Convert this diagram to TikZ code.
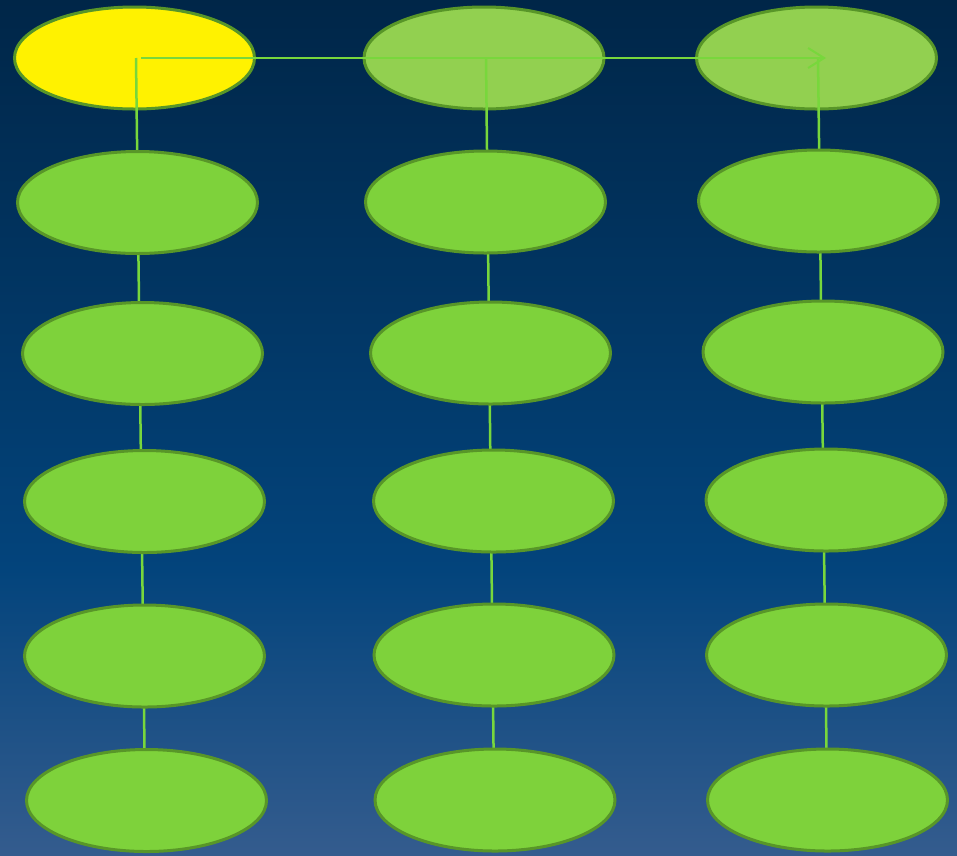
\documentclass[tikz,border=0pt]{standalone}
\usetikzlibrary{shapes.geometric,arrows.meta}
\definecolor{bgtop}{RGB}{0,38,72}
\definecolor{bgmid}{RGB}{3,68,124}
\definecolor{bgbot}{RGB}{52,92,142}
\definecolor{leaf}{RGB}{126,210,59}
\definecolor{leaflight}{RGB}{146,208,80}
\definecolor{rim}{RGB}{88,150,40}
\definecolor{wire}{RGB}{120,215,60}
\tikzset{
  oval/.style={ellipse, draw=rim, line width=3pt, fill=leaf,
    minimum width=240pt, minimum height=102pt, inner sep=0pt},
  ovaltop/.style={oval, fill=leaflight},
  ovalroot/.style={oval, fill=yellow},
  wireline/.style={draw=wire, line width=2.5pt},
  wirearrow/.style={wireline, -{Straight Barb[length=16pt,width=20pt,line width=2pt]}}
}
\begin{document}
\begin{tikzpicture}[x=1pt,y=-1pt]
\useasboundingbox (0,0) rectangle (957,855);
\shade[top color=bgtop, bottom color=bgmid] (0,0) rectangle (957,571);
\shade[top color=bgmid, bottom color=bgbot] (0,570) rectangle (957,855);
% top row
\node[ovalroot] (a1) at (134.5,58) {};
\node[ovaltop] (b1) at (484,58) {};
\node[ovaltop] (c1) at (816.5,58) {};
% connector coordinates
\coordinate (r0) at (141,58);
\coordinate (rEnd) at (826,58);
\coordinate (ra) at (136,58);
\coordinate (rb) at (486,58);
\coordinate (rc) at (818,58);
\coordinate (za) at (145,790);
\coordinate (zb) at (494,790);
\coordinate (zc) at (827,790);
% vertical connectors (behind the lower ovals)
\draw[wireline] (ra) -- (za);
\draw[wireline] (rb) -- (zb);
\draw[wireline] (rc) -- (zc);
% column 1
\node[oval] (a2) at (137.5,202.5) {};
\node[oval] (a3) at (142.5,353.5) {};
\node[oval] (a4) at (144.5,501.5) {};
\node[oval] (a5) at (144.5,656) {};
\node[oval] (a6) at (146.5,800.5) {};
% column 2
\node[oval] (b2) at (485.5,202) {};
\node[oval] (b3) at (490.5,353) {};
\node[oval] (b4) at (493.5,501) {};
\node[oval] (b5) at (494,655) {};
\node[oval] (b6) at (495,800) {};
% column 3
\node[oval] (c2) at (818.5,201) {};
\node[oval] (c3) at (823,352) {};
\node[oval] (c4) at (826,500) {};
\node[oval] (c5) at (826.5,655) {};
\node[oval] (c6) at (827.5,800) {};
% horizontal arrow
\draw[wirearrow] (r0) -- (rEnd);
\end{tikzpicture}
\end{document}
